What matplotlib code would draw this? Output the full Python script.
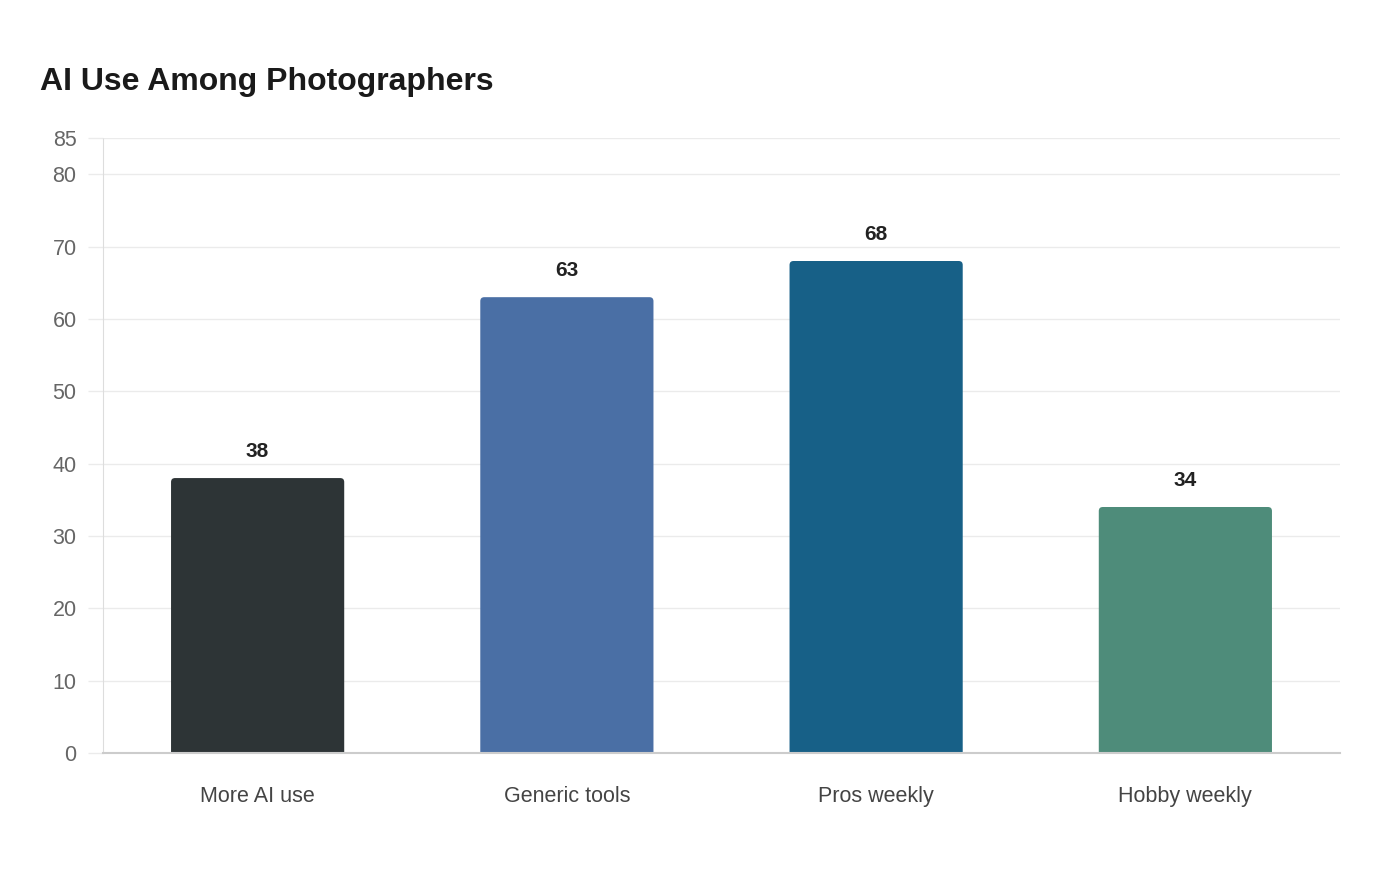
import matplotlib
matplotlib.use("Agg")
import matplotlib.pyplot as plt
from matplotlib.patches import FancyBboxPatch

categories = ["More AI use", "Generic tools", "Pros weekly", "Hobby weekly"]
values = [38, 63, 68, 34]
colors = ["#2d3436", "#4a6fa5", "#176087", "#4e8c7a"]
yticks = [0, 10, 20, 30, 40, 50, 60, 70, 80, 85]
title = "AI Use Among Photographers"

plt.rcParams["font.family"] = ["Liberation Sans", "DejaVu Sans"]

W, H, DPI = 1400, 880, 100
fig = plt.figure(figsize=(W / DPI, H / DPI), dpi=DPI)
ax_l, ax_r, ax_t, ax_b = 103, 1340, 138, 753
ax = fig.add_axes([ax_l / W, (H - ax_b) / H, (ax_r - ax_l) / W, (ax_b - ax_t) / H])

ymax = 85
ax.set_xlim(-0.5, len(categories) - 0.5)
ax.set_ylim(0, ymax)

x = list(range(len(categories)))
bars = ax.bar(x, values, width=0.56, color=colors, zorder=3)

# rounded top corners
px_per_x = (ax_r - ax_l) / len(categories)
px_per_y = (ax_b - ax_t) / ymax
r_px = 4
rx = r_px / px_per_x
ry = r_px / px_per_y
for rect, c in zip(bars, colors):
    bx, bw, bh = rect.get_x(), rect.get_width(), rect.get_height()
    rect.set_visible(False)
    p = FancyBboxPatch((bx, -2), bw, bh + 2,
                       boxstyle=f"round,pad=0,rounding_size={rx}",
                       mutation_aspect=ry / rx,
                       facecolor=c, edgecolor="none", zorder=3)
    ax.add_patch(p)

for xi, v in zip(x, values):
    ax.annotate(f"{v}", (xi, v), xytext=(0, 12.5), textcoords="offset points",
                ha="center", va="bottom", fontsize=15, fontweight="bold",
                color="#222222", zorder=4)

ax.set_yticks(yticks)
ax.set_yticklabels([str(t) for t in yticks])
ax.grid(axis="y", color="#ebebeb", linewidth=1.0, zorder=0)
ax.tick_params(axis="y", length=11, color="#ebebeb", width=1.0, pad=8,
               labelsize=15.5, labelcolor="#666666")
ax.set_xticks(x)
ax.set_xticklabels(categories)
ax.tick_params(axis="x", length=0, pad=23.5, labelsize=15.5, labelcolor="#444444")

for s in ["top", "right"]:
    ax.spines[s].set_visible(False)
ax.spines["left"].set_color("#dddddd")
ax.spines["left"].set_linestyle((0, (1, 1)))
ax.spines["left"].set_linewidth(0.8)
ax.spines["bottom"].set_color("#cccccc")
ax.spines["bottom"].set_linewidth(1.5)
ax.spines["bottom"].set_zorder(4)

fig.text(40 / W, 1 - 90 / H, title, fontsize=23, fontweight="bold",
         color="#1a1a1a", ha="left", va="baseline")

fig.savefig("out.png", dpi=DPI, facecolor="white")
